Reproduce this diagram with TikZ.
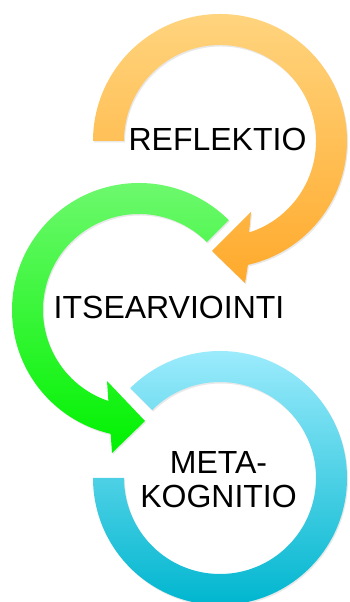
\documentclass[tikz,border=0pt]{standalone}
\usepackage{fontspec}
\setmainfont{Liberation Sans}
\usetikzlibrary{calc,shadows}
\definecolor{orangetop}{HTML}{FFD47E}
\definecolor{orangebot}{HTML}{FFAA2C}
\definecolor{greentop}{HTML}{72F972}
\definecolor{greenbot}{HTML}{00F200}
\definecolor{bluetop}{HTML}{9BEBFC}
\definecolor{bluebot}{HTML}{00B6CF}
\tikzset{
  ringshadow/.style={drop shadow={opacity=0.18,shadow xshift=1pt,shadow yshift=-1.5pt}},
  ringtext/.style={font=\fontsize{32}{34}\selectfont,inner sep=0pt,align=center}
}

\begin{document}
\begin{tikzpicture}[x=1pt,y=1pt]
\useasboundingbox (0,0) rectangle (350,602);
\coordinate (O) at (220,461);
\coordinate (G) at (139,292);
\coordinate (B) at (220,124);

% blue ring
\shade[ringshadow,top color=bluetop,bottom color=bluebot]
  ($(B)+(180:127)$) arc[start angle=180,end angle=495,radius=127]
  -- ($(B)+(135:96)$) arc[start angle=495,end angle=180,radius=96] -- cycle;

% green arrow
\shade[ringshadow,top color=greentop,bottom color=greenbot]
  ($(G)+(45:127)$) arc[start angle=45,end angle=257.1,radius=127]
  -- (112,149) -- (145,181) -- (107,221)
  -- ($(G)+(251.4:96)$) arc[start angle=251.4,end angle=45,radius=96] -- cycle;

% orange arrow
\shade[ringshadow,top color=orangetop,bottom color=orangebot]
  ($(O)+(180:127)$) arc[start angle=180,end angle=-77.3,radius=127]
  -- (245,319) -- (212,351) -- (251,390)
  -- ($(O)+(-72.4:96)$) arc[start angle=-72.4,end angle=180,radius=96] -- cycle;

\node[ringtext] (reflektio) at (217.5,463) {REFLEKTIO};
\node[ringtext] (itsearviointi) at (169,295) {ITSEARVIOINTI};
\node[ringtext] (metakognitio) at (218.5,122.5) {META-\\KOGNITIO};
\end{tikzpicture}
\end{document}
